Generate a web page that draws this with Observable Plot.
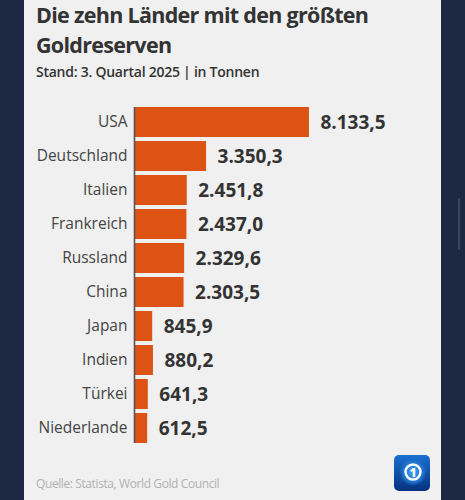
<!DOCTYPE html>
<html>
<head>
<meta charset="utf-8">
<script src="https://cdn.jsdelivr.net/npm/d3@7"></script>
<script src="https://cdn.jsdelivr.net/npm/@observablehq/plot@0.6"></script>
<style>
  html, body { margin: 0; padding: 0; }
  body { width: 465px; height: 500px; background: #1c2842; position: relative; overflow: hidden; font-family: "Open Sans", sans-serif; }
  #card { position: absolute; left: 24px; top: 0; width: 417px; height: 500px; background: #f0f0f0; }
  .title { position: absolute; left: 12px; font-size: 21.5px; line-height: 30px; font-weight: 700; color: #333; letter-spacing: -0.7px; white-space: nowrap; }
  #t1 { top: 0px; }
  #t2 { top: 30px; }
  #subtitle { position: absolute; left: 12px; top: 62px; font-size: 14px; line-height: 20px; font-weight: 600; color: #333; letter-spacing: -0.25px; white-space: nowrap; }
  #chart { position: absolute; left: 0; top: 95px; }
  #caption { position: absolute; left: 12px; top: 476px; font-size: 12px; line-height: 16px; color: #b0b0b0; letter-spacing: -0.4px; white-space: nowrap; }
  #logo { position: absolute; left: 370px; top: 455px; }
  #scroll { position: absolute; left: 458px; top: 198px; width: 2px; height: 52px; background: #3a4660; border-radius: 1px; }
</style>
</head>
<body>
<div id="card">
  <div class="title" id="t1">Die zehn Länder mit den größten</div>
  <div class="title" id="t2">Goldreserven</div>
  <div id="subtitle">Stand: 3. Quartal 2025 | in Tonnen</div>
  <div id="chart"></div>
  <div id="caption">Quelle: Statista, World Gold Council</div>
  <svg id="logo" width="36" height="36" viewBox="0 0 36 36">
    <defs>
      <linearGradient id="lg" x1="0" y1="0" x2="0" y2="1">
        <stop offset="0" stop-color="#1a6fd0"/>
        <stop offset="1" stop-color="#06327e"/>
      </linearGradient>
      <radialGradient id="rg" cx="0.5" cy="0.5" r="0.5">
        <stop offset="0" stop-color="#3fa0f0"/>
        <stop offset="0.7" stop-color="#1f74d0"/>
        <stop offset="1" stop-color="#1f74d0" stop-opacity="0"/>
      </radialGradient>
    </defs>
    <rect x="0" y="0" width="36" height="36" rx="5" fill="url(#lg)"/>
    <circle cx="19" cy="17" r="14" fill="url(#rg)"/>
    <circle cx="19" cy="17" r="7.5" fill="none" stroke="#fff" stroke-width="2.4"/>
    <text x="19" y="21.5" text-anchor="middle" font-family="Open Sans" font-weight="800" font-size="12" fill="#fff">1</text>
  </svg>
</div>
<div id="scroll"></div>
<script>
const countries = ["USA", "Deutschland", "Italien", "Frankreich", "Russland", "China", "Japan", "Indien", "Türkei", "Niederlande"];
const tonnes = [8133.5, 3350.3, 2451.8, 2437.0, 2329.6, 2303.5, 845.9, 880.2, 641.3, 612.5];

const de = d3.formatLocale({decimal: ",", thousands: ".", grouping: [3], currency: ["", " €"]});
const fmt = de.format(",.1f");

const data = countries.map((c, i) => ({country: c, value: tonnes[i]}));

const chart = Plot.plot({
  width: 417,
  height: 355,
  marginTop: 10,
  marginBottom: 5,
  marginLeft: 110,
  marginRight: 113.4,
  style: {background: "transparent", fontFamily: "Open Sans", overflow: "visible"},
  x: {domain: [0, 9000], axis: null},
  y: {domain: countries, paddingInner: 0.12, paddingOuter: 0.06, label: null, tickSize: 0, tickPadding: 7},
  marks: [
    Plot.barX(data, {x: "value", y: "country", fill: "#dc5314"}),
    Plot.ruleX([0], {stroke: "#555", strokeWidth: 1.6, insetTop: 2, insetBottom: 2}),
    Plot.text(data, {x: "value", y: "country", text: d => fmt(d.value), textAnchor: "start", dx: 11, fontSize: 19, fontWeight: 700, fill: "#333"}),
    Plot.axisY({tickSize: 0, tickPadding: 7, fontSize: 15.5, color: "#444", label: null})
  ]
});
document.getElementById("chart").appendChild(chart);
</script>
</body>
</html>
